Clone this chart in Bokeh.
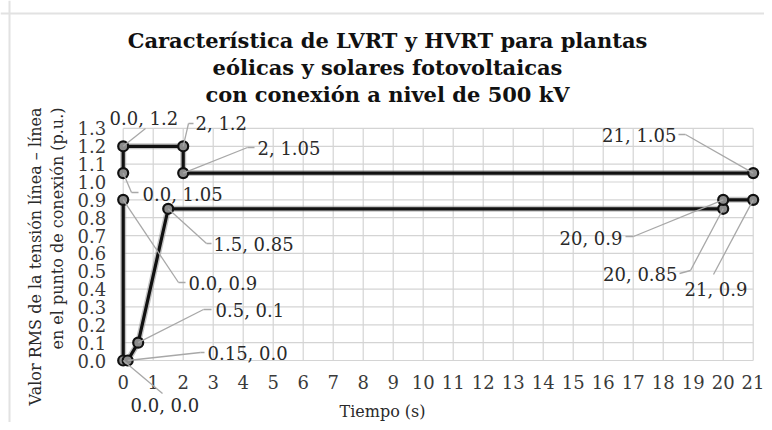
import math
from bokeh.plotting import figure
from bokeh.models import (Range1d, FixedTicker, Label, Arrow, ColumnDataSource,
                          PrintfTickFormatter, Span)
from bokeh.embed import file_html
from bokeh.resources import INLINE

# ---------------- data ----------------
title_lines = ["Característica de LVRT y HVRT para plantas",
               "eólicas y solares fotovoltaicas",
               "con conexión a nivel de 500 kV"]
y_label_lines = ["Valor RMS de la tensión línea – línea",
                 "en el punto de conexión (p.u.)"]
x_label = "Tiempo (s)"

lvrt_t = [0.0, 0.0, 0.15, 0.5, 1.5, 20, 20, 21]
lvrt_v = [0.9, 0.0, 0.0, 0.1, 0.85, 0.85, 0.9, 0.9]
hvrt_t = [0.0, 0.0, 2, 2, 21]
hvrt_v = [1.05, 1.2, 1.2, 1.05, 1.05]

x_ticks = list(range(0, 22))
y_ticks = [round(i * 0.1, 1) for i in range(14)]

point_t = [0.0, 2, 2, 0.0, 1.5, 0.0, 0.5, 0.15, 0.0, 21, 20, 20, 21]
point_v = [1.2, 1.2, 1.05, 1.05, 0.85, 0.9, 0.1, 0.0, 0.0, 1.05, 0.9, 0.85, 0.9]
point_text = ["0.0, 1.2", "2, 1.2", "2, 1.05", "0.0, 1.05", "1.5, 0.85",
              "0.0, 0.9", "0.5, 0.1", "0.15, 0.0", "0.0, 0.0", "21, 1.05",
              "20, 0.9", "20, 0.85", "21, 0.9"]

# ---------------- layout (canvas pixels) ----------------
CW, CH = 764, 422
X0_PX, SX = 122.7, 30.0      # pixel of t=0, pixels per second
Y0_PX, SY = 360.0, 178.5     # pixel of v=0, pixels per p.u.


def px_x(px):
    return (px - X0_PX) / SX


def px_y(py):
    return (Y0_PX - py) / SY


# text anchor (px), alignment, leader bend points (px) -> ends at the point
label_layout = [
    ((109, 118), "left", [(145, 128)]),
    ((195, 123), "left", [(193, 123), (188, 123)]),
    ((257, 148), "left", [(254, 147), (247, 147)]),
    ((142, 194), "left", [(138, 192), (131, 192)]),
    ((213, 244), "left", [(211, 243), (206, 243)]),
    ((188, 283), "left", [(185, 282), (178, 282)]),
    ((215, 310), "left", [(211, 309), (203, 309)]),
    ((207, 353), "left", [(204, 352), (200, 352)]),
    ((130, 405), "left", [(162, 393)]),
    ((676, 135), "right", [(678, 134), (685, 134)]),
    ((622, 238), "right", [(625, 236), (633, 236)]),
    ((677, 274), "right", [(679, 273), (690, 270)]),
    ((747, 289), "right", [(713, 274)]),
]

SERIF = "DejaVu Serif"

p = figure(width=CW, height=CH, min_border=0,
           x_range=Range1d(px_x(0), px_x(CW)), y_range=Range1d(px_y(CH), px_y(0)),
           output_backend="svg", toolbar_location=None, tools="")
p.title.visible = False
p.outline_line_color = None
p.background_fill_color = "white"
p.border_fill_color = "white"
p.xgrid.visible = False
p.ygrid.visible = False

p.xaxis.ticker = FixedTicker(ticks=x_ticks)
p.yaxis.ticker = FixedTicker(ticks=y_ticks)
p.yaxis.formatter = PrintfTickFormatter(format="%.1f")
p.xaxis.fixed_location = 0
p.yaxis.fixed_location = 0
for ax in (p.xaxis, p.yaxis):
    ax.axis_line_color = None
    ax.major_tick_line_color = None
    ax.minor_tick_line_color = None
    ax.major_tick_out = 0
    ax.major_tick_in = 0
    ax.major_label_text_font = SERIF
    ax.major_label_text_font_size = "18px"
    ax.major_label_text_color = "#3a3a3a"
p.yaxis.major_label_standoff = 17
p.xaxis.major_label_standoff = 14
p.xaxis.axis_label = x_label
p.xaxis.axis_label_text_font = SERIF
p.xaxis.axis_label_text_font_size = "16px"
p.xaxis.axis_label_text_font_style = "normal"
p.xaxis.axis_label_text_color = "#2a2a2a"
p.xaxis.axis_label_standoff = 10

# card border of the original picture
p.add_layout(Span(location=px_x(9), dimension="height", line_color="#e2e2e2", line_width=2))
p.add_layout(Span(location=px_y(13), dimension="width", line_color="#e2e2e2", line_width=2))

# grid restricted to the data area
p.segment(x0=x_ticks, x1=x_ticks, y0=[y_ticks[0]] * len(x_ticks), y1=[y_ticks[-1]] * len(x_ticks),
          line_color="#d4d4d4", line_width=1.2)
p.segment(x0=[x_ticks[0]] * len(y_ticks), x1=[x_ticks[-1]] * len(y_ticks), y0=y_ticks, y1=y_ticks,
          line_color="#d4d4d4", line_width=1.2)

# leaders
x0, y0, x1, y1 = [], [], [], []
for t, v, (anchor, align, bends) in zip(point_t, point_v, label_layout):
    pts = [(px_x(a), px_y(b)) for a, b in bends] + [(t, v)]
    for (ax_, ay_), (bx_, by_) in zip(pts[:-1], pts[1:]):
        x0.append(ax_); y0.append(ay_); x1.append(bx_); y1.append(by_)
lead_src = ColumnDataSource(dict(x0=x0, y0=y0, x1=x1, y1=y1))
p.add_layout(Arrow(end=None, x_start="x0", y_start="y0", x_end="x1", y_end="y1",
                   source=lead_src, line_color="#a8a8a8", line_width=1.3))

# series
for tt, vv in ((lvrt_t, lvrt_v), (hvrt_t, hvrt_v)):
    p.line(tt, vv, line_color="#8a8a8a", line_width=6, line_alpha=0.5)
    p.line(tt, vv, line_color="#111111", line_width=3.2)
    p.scatter(tt, vv, marker="circle", size=10, fill_color="#8c8c8c",
              line_color="#111111", line_width=2.2)

# point labels
for txt, (anchor, align, bends) in zip(point_text, label_layout):
    p.add_layout(Label(x=px_x(anchor[0]), y=px_y(anchor[1]), text=txt,
                       text_align=align, text_baseline="middle",
                       text_font=SERIF, text_font_size="18px",
                       text_color="#2a2a2a"))

# title
for line, ty in zip(title_lines, (40, 67, 94)):
    p.add_layout(Label(x=px_x(387), y=px_y(ty), text=line, text_align="center",
                       text_baseline="alphabetic", text_font=SERIF,
                       text_font_size="21px", text_font_style="bold",
                       text_color="#111111"))

# y-axis title (two rotated lines)
for line, lx in zip(y_label_lines, (35, 57)):
    p.add_layout(Label(x=px_x(lx), y=px_y(107), text=line, angle=math.pi / 2,
                       text_align="right", text_baseline="middle",
                       text_font=SERIF, text_font_size="16px",
                       text_color="#2a2a2a"))

open("out.html", "w").write(file_html(p, INLINE))
